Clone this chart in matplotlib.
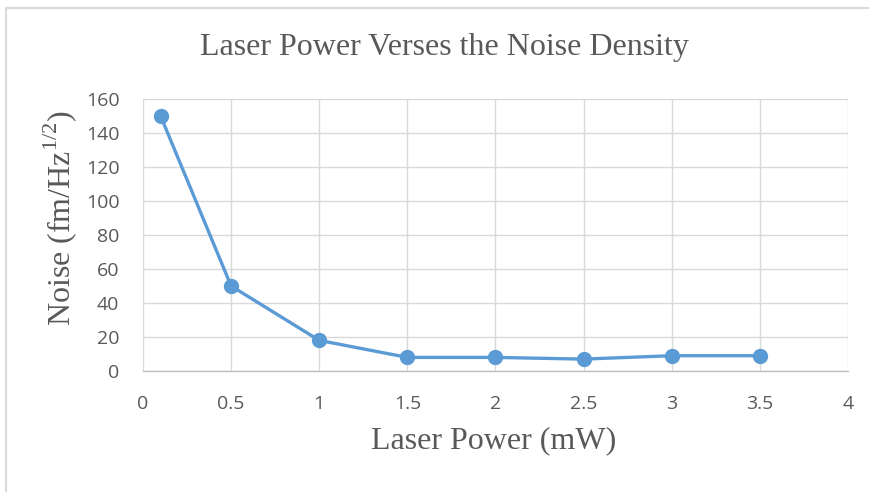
import matplotlib
matplotlib.use("Agg")
import matplotlib.pyplot as plt
from matplotlib.lines import Line2D

power_mw = [0.1, 0.5, 1.0, 1.5, 2.0, 2.5, 3.0, 3.5]
noise = [150, 50, 18, 8, 8, 7, 9, 9]
x_ticks = [0, 0.5, 1, 1.5, 2, 2.5, 3, 3.5, 4]
x_tick_labels = ["0", "0.5", "1", "1.5", "2", "2.5", "3", "3.5", "4"]
y_ticks = [0, 20, 40, 60, 80, 100, 120, 140, 160]

grey = "#595959"
grid_c = "#D9D9D9"
blue = "#5B9BD5"
serif = "Liberation Serif"
plt.rcParams["mathtext.fontset"] = "custom"
plt.rcParams["mathtext.rm"] = serif

fig = plt.figure(figsize=(8.7, 4.92), dpi=100)
ax = fig.add_axes([143/870, 1-371/492, (848-143)/870, (371-99)/492])

ax.plot(power_mw, noise, color=blue, lw=2.4, marker="o", ms=10,
        markerfacecolor=blue, markeredgecolor=blue, zorder=3, clip_on=False)

ax.set_xlim(0, 4)
ax.set_ylim(0, 160)
ax.set_xticks(x_ticks)
ax.set_xticklabels(x_tick_labels)
ax.set_yticks(y_ticks)
ax.grid(True, color=grid_c, lw=1.0)
ax.set_axisbelow(True)
for s in ["top", "right", "left"]:
    ax.spines[s].set_visible(False)
ax.spines["bottom"].set_color("#BFBFBF")
ax.spines["bottom"].set_linewidth(1.0)
ax.tick_params(axis="both", length=0, labelsize=14, labelcolor=grey)
ax.tick_params(axis="x", pad=17)
ax.tick_params(axis="y", pad=17)
for lab in ax.get_xticklabels() + ax.get_yticklabels():
    lab.set_fontfamily("Open Sans")

fig.text(444/870, 1-47/492, "Laser Power Verses the Noise Density",
         ha="center", va="center", fontsize=23, color=grey, family=serif)
fig.text(494/870, 1-441/492, "Laser Power (mW)", ha="center", va="center",
         fontsize=23, color=grey, family=serif)
fig.text(60/870, 1-218/492, r"Noise (fm/Hz$^{1/2}$)", ha="center", va="center",
         rotation=90, fontsize=23, color=grey, family=serif)

# chart frame (top and left edges)
fig.add_artist(Line2D([6/870, 6/870], [0, 1-8/492], transform=fig.transFigure,
                      color="#D9D9D9", lw=1.5))
fig.add_artist(Line2D([6/870, 1], [1-8/492, 1-8/492], transform=fig.transFigure,
                      color="#D9D9D9", lw=1.5))

fig.savefig("out.png", dpi=100)
